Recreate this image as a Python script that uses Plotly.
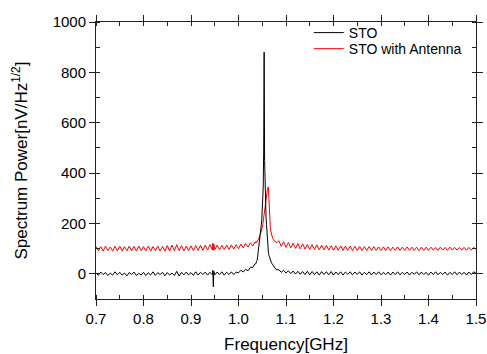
import plotly.graph_objects as go

# Frequency grid [GHz] (dense around the resonance peaks)
freq_ghz = [
    0.700, 0.705, 0.710, 0.715, 0.720, 0.725, 0.730, 0.735, 0.740, 0.745,
    0.750, 0.755, 0.760, 0.765, 0.770, 0.775, 0.780, 0.785, 0.790, 0.795,
    0.800, 0.805, 0.810, 0.815, 0.820, 0.825, 0.830, 0.835, 0.840, 0.845,
    0.850, 0.855, 0.860, 0.865, 0.870, 0.875, 0.880, 0.885, 0.890, 0.895,
    0.900, 0.905, 0.910, 0.915, 0.920, 0.925, 0.930, 0.935, 0.940, 0.945,
    0.946, 0.947, 0.948,
    0.950, 0.955, 0.960, 0.965, 0.970, 0.975, 0.980, 0.985, 0.990, 0.995,
    1.000, 1.005, 1.010, 1.015, 1.020, 1.025, 1.030, 1.035,
    1.036, 1.037, 1.038, 1.039, 1.040, 1.041, 1.042, 1.043, 1.044, 1.045,
    1.046, 1.047, 1.048, 1.049, 1.050, 1.051, 1.052, 1.053, 1.054, 1.055,
    1.056, 1.057, 1.058, 1.059, 1.060, 1.061, 1.062, 1.063, 1.064, 1.065,
    1.066, 1.067, 1.068, 1.069, 1.070, 1.071, 1.072, 1.073, 1.074, 1.075,
    1.076, 1.077, 1.078, 1.079, 1.080,
    1.085, 1.090, 1.095, 1.100, 1.105, 1.110, 1.115, 1.120, 1.125, 1.130,
    1.135, 1.140, 1.145, 1.150, 1.155, 1.160, 1.165, 1.170, 1.175, 1.180,
    1.185, 1.190, 1.195, 1.200, 1.205, 1.210, 1.215, 1.220, 1.225, 1.230,
    1.235, 1.240, 1.245, 1.250, 1.255, 1.260, 1.265, 1.270, 1.275, 1.280,
    1.285, 1.290, 1.295, 1.300, 1.305, 1.310, 1.315, 1.320, 1.325, 1.330,
    1.335, 1.340, 1.345, 1.350, 1.355, 1.360, 1.365, 1.370, 1.375, 1.380,
    1.385, 1.390, 1.395, 1.400, 1.405, 1.410, 1.415, 1.420, 1.425, 1.430,
    1.435, 1.440, 1.445, 1.450, 1.455, 1.460, 1.465, 1.470, 1.475, 1.480,
    1.485, 1.490, 1.495, 1.500,
]

# STO spectrum [nV/Hz^1/2]
sto = [
    4, -6, 7, -3, 5, -7, 3, -5, 8, -4,
    6, -5, 3, -8, 5, -3, 7, -6, 2, -5,
    6, -7, 4, -4, 8, -6, 5, -3, 6, -8,
    5, -5, 3, -7, 10, -9, 6, -4, 7, -4,
    5, -6, 8, -5, 6, -3, 7, -5, 6, -4,
    14, -52, 10,
    -4, 7, -3, 8, -5, 6, -3, 8, -3, 7,
    4, 14, 7, 18, 12, 26, 25, 40,
    42, 41, 50, 52, 64, 78, 95, 108, 120, 138,
    160, 175, 195, 215, 245, 280, 340, 480, 880, 450,
    320, 260, 225, 195, 150, 120, 100, 85, 74, 66,
    60, 55, 50, 46, 42, 40, 35, 34, 29, 29,
    24, 24, 20, 20, 16,
    16, 6, 14, 3, 12, 1, 11, -1, 10, -2,
    9, -3, 10, -4, 9, -3, 8, -5, 9, -3,
    8, -4, 9, -5, 7, -3, 8, -5, 7, -2,
    8, -4, 7, -3, 8, -5, 6, -3, 8, -5,
    7, -3, 8, -4, 6, -3, 7, -5, 7, -3,
    8, -4, 6, -3, 7, -5, 6, -2, 8, -4,
    7, -3, 6, -5, 7, -3, 8, -4, 6, -3,
    7, -5, 6, -3, 8, -4, 7, -3, 6, -5,
    7, -3, 8, 2,
]

# STO with Antenna spectrum [nV/Hz^1/2]
sto_antenna = [
    109, 91, 108, 90, 110, 92, 107, 90, 109, 91,
    110, 90, 108, 92, 110, 91, 109, 90, 110, 92,
    108, 91, 110, 90, 108, 92, 110, 91, 109, 90,
    112, 90, 114, 92, 116, 92, 112, 91, 110, 92,
    111, 92, 112, 93, 113, 93, 114, 94, 116, 95,
    122, 93, 118,
    96, 114, 95, 113, 96, 114, 97, 115, 98, 116,
    100, 118, 103, 120, 106, 123, 110, 127,
    122, 126, 124, 130, 129, 135, 136, 142, 145, 151,
    156, 163, 168, 176, 184, 194, 205, 217, 232, 248,
    265, 282, 300, 316, 328, 336, 342, 345, 300, 240,
    205, 184, 170, 158, 150, 146, 140, 138, 134, 133,
    129, 130, 126, 127, 123,
    131, 109, 127, 105, 124, 103, 122, 101, 120, 99,
    119, 98, 117, 97, 116, 96, 115, 95, 114, 95,
    113, 94, 112, 94, 111, 93, 111, 93, 110, 93,
    110, 92, 109, 93, 109, 92, 108, 93, 108, 92,
    108, 93, 107, 92, 107, 93, 107, 92, 106, 93,
    107, 93, 106, 93, 107, 93, 106, 93, 106, 92,
    106, 93, 106, 93, 106, 94, 105, 93, 106, 94,
    105, 93, 106, 94, 105, 94, 105, 94, 105, 93,
    105, 94, 105, 98,
]

x_ticks = [0.7, 0.8, 0.9, 1.0, 1.1, 1.2, 1.3, 1.4, 1.5]
x_tick_labels = ["0.7", "0.8", "0.9", "1.0", "1.1", "1.2", "1.3", "1.4", "1.5"]
y_ticks = [0, 200, 400, 600, 800, 1000]

FONT = "Liberation Sans, Arial, sans-serif"
AXIS_COLOR = "#222222"

fig = go.Figure()
fig.add_trace(go.Scatter(
    x=freq_ghz, y=sto_antenna, mode="lines", name="STO with Antenna",
    line=dict(color="#ff0000", width=1), legend="legend2",
))
fig.add_trace(go.Scatter(
    x=freq_ghz, y=sto, mode="lines", name="STO",
    line=dict(color="#000000", width=1), legend="legend",
))

legend_common = dict(
    x=0.56, xanchor="left", yanchor="top",
    bgcolor="rgba(0,0,0,0)", borderwidth=0,
    font=dict(family=FONT, size=14, color="black"),
    itemwidth=30,
)

fig.update_layout(
    width=487, height=354,
    margin=dict(l=96, r=11, t=22, b=55, autoexpand=False),
    paper_bgcolor="white", plot_bgcolor="white",
    font=dict(family=FONT, size=15, color="black"),
    showlegend=True,
    legend=dict(y=1.018, **legend_common),
    legend2=dict(y=0.96, **legend_common),
)
fig.update_xaxes(
    range=[0.7, 1.5], tickmode="array", tickvals=x_ticks, ticktext=x_tick_labels,
    showgrid=False, zeroline=False, automargin=False,
    showline=True, linecolor=AXIS_COLOR, linewidth=1, mirror="ticks",
    ticks="outside", ticklen=6, tickcolor=AXIS_COLOR,
    minor=dict(dtick=0.05, tick0=0.7, ticks="inside", ticklen=4, tickcolor=AXIS_COLOR),
    tickfont=dict(family=FONT, size=15),
    title=dict(text="Frequency[GHz]", font=dict(family=FONT, size=17), standoff=12),
)
fig.update_yaxes(
    range=[-100, 1000], tickmode="array", tickvals=y_ticks,
    showgrid=False, zeroline=False, automargin=False,
    showline=True, linecolor=AXIS_COLOR, linewidth=1, mirror="ticks",
    ticks="outside", ticklen=6, tickcolor=AXIS_COLOR,
    minor=dict(dtick=100, tick0=0, ticks="inside", ticklen=4, tickcolor=AXIS_COLOR),
    tickfont=dict(family=FONT, size=15),
    title=dict(text="Spectrum Power[nV/Hz<sup>1/2</sup>]", font=dict(family=FONT, size=17), standoff=20),
)

fig.write_html(
    "out.html",
    config={"displayModeBar": False},
    post_script="document.body.style.margin='0';document.body.style.overflow='hidden';",
)
